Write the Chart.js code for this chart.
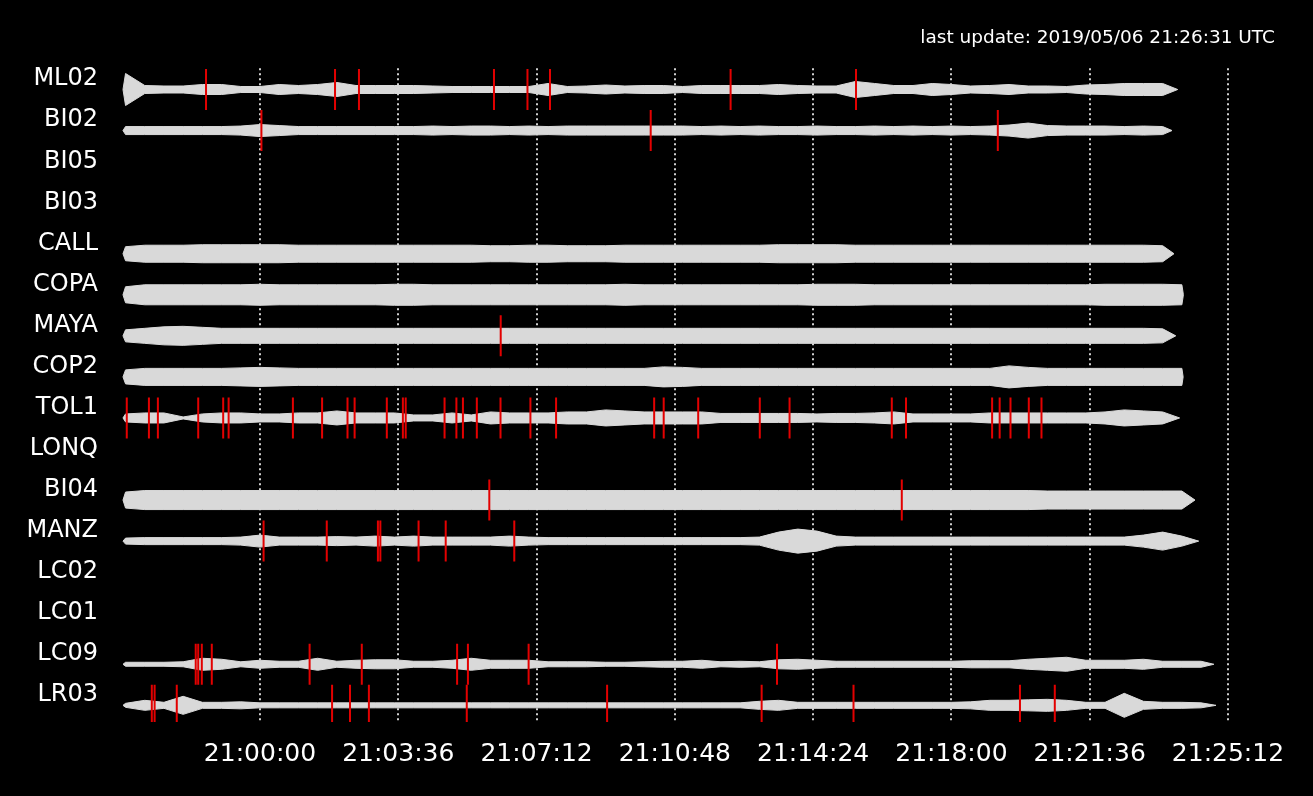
<!DOCTYPE html>
<html>
<head>
<meta charset="utf-8">
<script src="https://cdn.jsdelivr.net/npm/chart.js@4.4.0/dist/chart.umd.min.js"></script>
<style>
html,body{margin:0;padding:0;background:#000;}
#wrap{width:1313px;height:796px;}
</style>
</head>
<body>
<div id="wrap"><canvas id="c" width="1313" height="796"></canvas></div>
<script>
// ---------- DATA ----------
const stations = ['ML02','BI02','BI05','BI03','CALL','COPA','MAYA','COP2','TOL1','LONQ','BI04','MANZ','LC02','LC01','LC09','LR03'];
// time ticks, seconds after 21:00:00
const tickSeconds = [0, 216, 432, 648, 864, 1080, 1296, 1512];
const tickLabels = ['21:00:00','21:03:36','21:07:12','21:10:48','21:14:24','21:18:00','21:21:36','21:25:12'];
const updateText = 'last update: 2019/05/06 21:26:31 UTC';

// envelope sample times (s after 21:00:00)
const sampleTimes = [-210,-180,-150,-120,-90,-60,-30,0,30,60,90,120,150,180,210,240,270,300,330,360,
  390,420,450,480,510,540,570,600,630,660,690,720,750,780,810,840,870,900,930,960,
  990,1020,1050,1080,1110,1140,1170,1200,1230,1260,1290,1320,1350,1380,1410,1440,1470,1500];
const traceStart = -214;
// trace end times per station (null = no data)
const traceEnd = [1433.5,1424.6,null,null,1427.7,1442.4,1430.5,1442,1436.5,null,1460.5,1466.3,null,null,1490,1493.3];

// trace envelope half-amplitudes (relative counts) at sampleTimes
const ampML02 = [16,4,3.5,3.5,5,5,3,3,5,4, 5,7,4,4,4,4,3.5,3,3,3, 3,3,6,3,3.5,4.5,3.5,4,4,3, 4,4,4,4,5,4,3.5,3.5,8,6, 4,4,6,5,3.5,4,5,3.5,3.5,3, 4.5,5,6,6,6];
const ampBI02 = [4,4,4,4,4,4,4.5,6,5,4, 4,4,4,4,4,4,4.5,4,4.5,4.5, 4,4.5,4,4.5,4.5,4.5,4.5,4.5,4.5,4.5, 4,4.5,4,4.5,4,4,4.5,4,4,4.5, 4,4.5,4,4.5,4,4.5,5.5,7.5,5,4.5, 4.5,4.5,4,4.5,4];
const ampCALL = [7,8.5,8.5,8.5,9,9,9,9,9,8.5, 8.5,8.5,8.5,8.5,8.5,8.5,8.5,8.5,8.5,8, 8,8.5,8.5,8,8,8,8.5,8.5,8.5,8.5, 8.5,8.5,8.5,8.5,9,9,9,9,8.5,8.5, 8.5,8.5,8.5,8.5,8.5,8.5,8.5,8.5,8.5,8.5, 8.5,8.5,8.5,8.5,8];
const ampCOPA = [8,10,10,10,10,10,10,10.5,10,10, 10,10,10,10,10.5,10.5,10,10,10,10, 10,10,10,10,10,10,10.5,10,10,10, 10,10,10,10,10,10,10.5,10.5,10.5,10, 10,10,10,10,10,10,10,10,10,10, 10,10.5,10.5,10.5,10.5,10];
const ampMAYA = [6,7.5,9,9.5,8.5,7.5,7.5,7.5,7.5,7.5, 7.5,7.5,7.5,7.5,7.5,7.5,7.5,7.5,7.5,7.5, 7.5,7.5,7.5,7.5,7.5,7.5,7.5,7.5,7.5,7.5, 7.5,7.5,7.5,7.5,7.5,7.5,7.5,7.5,7.5,7.5, 7.5,7.5,7.5,7.5,7.5,7.5,7.5,7.5,7.5,7.5, 7.5,7.5,7.5,7.5,7];
const ampCOP2 = [7,8.5,8.5,8.5,8.5,8.5,9,9.5,9,8.5, 8.5,8.5,8.5,8.5,8.5,8.5,8.5,8.5,8.5,8.5, 8.5,8.5,8.5,8.5,8.5,8.5,8.5,8.5,10,9.5, 8.5,8.5,8.5,8.5,8.5,8.5,8.5,8.5,8.5,8.5, 8.5,8.5,8.5,8.5,8.5,8.5,11,9.5,8.5,8.5, 8.5,8.5,8.5,8.5,8.5,8.5];
const ampTOL1 = [4,5,5,1,4,5,5,4,4,5, 5,7,5,5,5,3,3,5,3,6, 5,5,5,6,6,8,7,6,6,6, 6,4.5,4.5,4.5,4.5,4.5,4,4.5,4.5,5, 6,4,4,4,4,5,5,5,5,5, 5,6,8,7,6];
const ampBI04 = [8,9.5,9.5,9.5,9.5,9.5,9.5,9.5,9.5,9.5, 9.5,9.5,9.5,9.5,9.5,9.5,9.5,9.5,9.5,9.5, 9.5,9.5,9.5,9.5,9.5,9.5,9.5,9.5,9.5,9.5, 9.5,9.5,9.5,9.5,9.5,9.5,9.5,9.5,9.5,9.5, 9.5,9.5,9.5,9.5,9.5,9.5,9.5,9.5,9,9, 9,9,9,9,9,9];
const ampMANZ = [3,3.5,3.5,3.5,3.5,3.5,4,6,4,4, 4,4.5,4,5,4,5,4,4,4,4, 5,4,3.5,3.5,3.5,3.5,3.5,3.5,3.5,3.5, 3.5,3.5,3.5,4,9,12,10,5,4,4, 4,4,4,4,4,4,4,4,4,4, 4,4,4,6,9,5];
const ampLC09 = [2,2,2,2.5,6,5,2.5,4,3,3, 6,3,4,4.5,4.5,3,3,4,6,4, 4,4,2.5,2.5,2.5,2,2,2.5,3,3, 4,2.5,3,2.5,4.5,5,4,3,3,3, 3,3,3,3,3.5,3.5,3.5,5,6,7, 4,4,4,5,3,3,3];
const ampLR03 = [2,5,3,9,3,3,3.5,2.5,2.5,2.5, 2.5,2.5,2.5,2.5,2.5,2.5,2.5,2.5,2.5,2.5, 2.5,2.5,2.5,2.5,2.5,2.5,2.5,2.5,2.5,2.5, 2.5,2.5,2.5,4,5,3,3,3,3,3, 3,3,3,3,3.5,5,5,5.5,6,5, 3,3,12,4,3,3,2.5];

// phase picks (s after 21:00:00)
const picksML02 = [-84.3, 117.2, 154.6, 365.5, 417.8, 453.0, 735.1, 931.0];
const picksBI02 = [2.2, 610.3, 1152.5];
const picksMAYA = [376.0];
const picksTOL1 = [-208.1,-173.5,-159.5,-96.5,-57.5,-49.0,51.4,97.0,136.7,147.8,198.1,223.2,227.6,288.3,306.8,317.0,
  338.7,375.7,422.4,462.5,615.7,630.6,684.5,780.7,827.2,986.9,1009.1,1143.6,1155.4,1172.3,1200.9,1220.7];
const picksBI04 = [358.2, 1002.5];
const picksMANZ = [5.6, 104.3, 184.2, 188.0, 247.7, 290.1, 397.2];
const picksLC09 = [-100.4,-96.5,-90.9,-75.3,77.5,159.0,307.9,324.8,419.6,807.6];
const picksLR03 = [-169.0,-164.6,-130.0,112.6,140.6,170.1,323.0,542.2,783.6,927.1,1187.1,1241.5];

// ---------- BUILD ----------
const ampTable = {ML02:ampML02, BI02:ampBI02, CALL:ampCALL, COPA:ampCOPA, MAYA:ampMAYA, COP2:ampCOP2,
  TOL1:ampTOL1, BI04:ampBI04, MANZ:ampMANZ, LC09:ampLC09, LR03:ampLR03};
const pickTable = {ML02:picksML02, BI02:picksBI02, MAYA:picksMAYA, TOL1:picksTOL1, BI04:picksBI04,
  MANZ:picksMANZ, LC09:picksLC09, LR03:picksLR03};

const ROW_OFFSET = 0.30;      // trace baseline below the label row
const AMP_SCALE = 1 / 41;     // counts -> row units
const TRACE_COLOR = 'rgb(217,217,217)';
const PICK_COLOR = '#e30000';

const datasets = [];
stations.forEach((st, i) => {
  const amp = ampTable[st];
  if (!amp) return;
  const c = i + ROW_OFFSET;
  const upper = [{x: traceStart, y: c}];
  const lower = [{x: traceStart, y: c}];
  amp.forEach((a, k) => {
    upper.push({x: sampleTimes[k], y: c - a * AMP_SCALE});
    lower.push({x: sampleTimes[k], y: c + a * AMP_SCALE});
  });
  upper.push({x: traceEnd[i], y: c});
  lower.push({x: traceEnd[i], y: c});
  datasets.push({data: upper, borderColor: TRACE_COLOR, borderWidth: 1, pointRadius: 0, fill: false, tension: 0, order: 2});
  datasets.push({data: lower, borderColor: TRACE_COLOR, borderWidth: 1, pointRadius: 0, fill: '-1',
    backgroundColor: TRACE_COLOR, tension: 0, order: 2});
});
stations.forEach((st, i) => {
  const p = pickTable[st];
  if (!p) return;
  datasets.push({
    data: p.map(t => ({x: t, y: i + ROW_OFFSET})),
    showLine: false, pointStyle: 'line', pointRotation: 90, pointRadius: 20.5, pointHoverRadius: 20.5,
    pointBorderColor: PICK_COLOR, pointBackgroundColor: PICK_COLOR, pointBorderWidth: 2, order: -1
  });
});

const FONT = 'DejaVu Sans';
new Chart(document.getElementById('c'), {
  type: 'line',
  data: {datasets},
  options: {
    responsive: false,
    devicePixelRatio: 1,
    animation: false,
    events: [],
    layout: {padding: {left: 0, right: 38, top: 0, bottom: 0}},
    plugins: {
      legend: {display: false},
      tooltip: {enabled: false},
      title: {
        display: true, text: updateText, align: 'end', color: '#ffffff',
        font: {family: FONT, size: 18.5, weight: 'normal'},
        padding: {top: 27, bottom: 19}
      }
    },
    scales: {
      x: {
        type: 'linear', min: -221.8, max: 1530.8,
        afterBuildTicks: s => { s.ticks = tickSeconds.map(v => ({value: v})); },
        ticks: {
          callback: (v, idx) => tickLabels[idx], color: '#ffffff',
          font: {family: FONT, size: 25}, padding: 17, maxRotation: 0, autoSkip: false
        },
        grid: {color: '#d0d0d0', lineWidth: 2, drawTicks: false},
        border: {display: false, dash: [2, 3]},
        afterFit: s => { s.height = 74; }
      },
      y: {
        type: 'linear', reverse: true, min: -0.219, max: 15.706,
        afterBuildTicks: s => { s.ticks = stations.map((_, i) => ({value: i})); },
        ticks: {
          callback: (v, idx) => stations[idx], color: '#ffffff',
          font: {family: FONT, size: 24}, padding: 20, autoSkip: false, labelOffset: 2
        },
        grid: {display: false, drawTicks: false},
        border: {display: false},
        afterFit: s => { s.width = 118; }
      },
      y2: {
        type: 'linear', position: 'right', min: 0, max: 1,
        ticks: {display: false}, grid: {display: false, drawTicks: false}, border: {display: false},
        afterFit: s => { s.width = 35; }
      }
    }
  }
});
</script>
</body>
</html>
